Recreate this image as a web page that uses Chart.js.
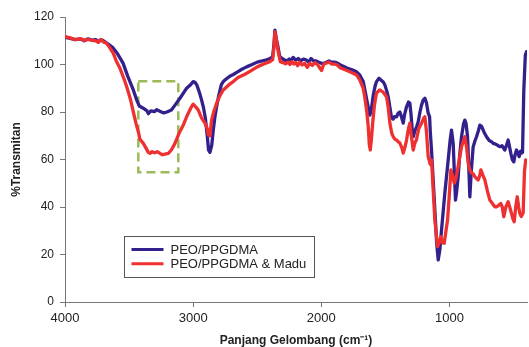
<!DOCTYPE html>
<html>
<head>
<meta charset="utf-8">
<script src="https://cdn.jsdelivr.net/npm/chart.js@4.4.1/dist/chart.umd.min.js"></script>
<style>
html, body { margin: 0; padding: 0; background: #fff; }
</style>
</head>
<body>
<canvas id="chartCanvas" width="529" height="347"></canvas>
<script>
const seriesNames = ["PEO/PPGDMA", "PEO/PPGDMA & Madu"];
const xTicks = [4000, 3000, 2000, 1000];
const yTicks = [0, 20, 40, 60, 80, 100, 120];

// PEO/PPGDMA (numero de onda, %T)
const wnPEO = [4000, 3960, 3920, 3880, 3850, 3820, 3790, 3760, 3740, 3720, 3700, 3660, 3625, 3590, 3547, 3510, 3467, 3440, 3420, 3390, 3360, 3350, 3330, 3300, 3285, 3260, 3230, 3205, 3170, 3140, 3103, 3070, 3051, 3020, 3000, 2985, 2970, 2950, 2934, 2920, 2905, 2890, 2880, 2869, 2855, 2843, 2830, 2817, 2800, 2780, 2765, 2740, 2710, 2687, 2650, 2620, 2583, 2540, 2500, 2460, 2427, 2400, 2380, 2370, 2362, 2352, 2340, 2325, 2310, 2290, 2270, 2250, 2235, 2220, 2200, 2180, 2160, 2140, 2120, 2100, 2080, 2060, 2040, 2020, 2000, 1980, 1960, 1940, 1920, 1900, 1881, 1850, 1800, 1760, 1725, 1700, 1673, 1660, 1645, 1634, 1621, 1610, 1595, 1580, 1569, 1550, 1535, 1515, 1504, 1490, 1478, 1465, 1452, 1440, 1430, 1413, 1400, 1387, 1375, 1361, 1350, 1335, 1320, 1309, 1300, 1290, 1283, 1270, 1255, 1244, 1230, 1218, 1205, 1192, 1180, 1166, 1155, 1150, 1140, 1114, 1100, 1088, 1075, 1062, 1036, 1010, 995, 984, 971, 960, 953, 945, 932, 920, 906, 890, 880, 870, 859, 850, 841, 830, 815, 800, 789, 775, 763, 750, 730, 711, 690, 672, 659, 640, 620, 607, 590, 568, 555, 542, 530, 521, 510, 498, 488, 477, 465, 456, 445, 438, 430, 420, 408, 399];
const tPEO = [111.5, 111, 110.5, 110.8, 110, 110.8, 110.3, 110.5, 109.5, 110.5, 110, 108.5, 107, 104.5, 100.6, 95, 89.3, 85, 82.5, 81.6, 80.5, 79.3, 80.5, 80.2, 81, 80.3, 79.6, 80, 80.8, 83, 85.8, 88.5, 90, 91.5, 92.8, 92.5, 91.2, 88, 85, 82, 77.5, 70, 64, 63, 66, 72.4, 78, 82.2, 87, 91.5, 92.8, 94, 95.2, 95.8, 97, 98, 99, 100, 101, 101.5, 102, 102.5, 103.3, 108, 114.5, 111, 108, 103.5, 102.7, 102, 101.5, 102.3, 101.6, 103, 101.8, 102.5, 101.5, 102.3, 102, 101, 102.5, 101.5, 101.5, 101, 100.5, 100.5, 101, 101.5, 101, 101, 100.8, 99.8, 98.5, 97.8, 96.9, 95.6, 92.8, 89.3, 85, 82, 78.7, 81, 87, 91, 92.8, 94.2, 93.5, 92.5, 91.4, 89, 86.4, 82, 77.6, 77, 78, 78, 79.5, 80, 78, 75.3, 79, 82.2, 84.2, 83.7, 79, 72, 69.6, 72, 74, 75.9, 80, 82.9, 85, 85.8, 84, 79.5, 78, 72, 64, 38.7, 25, 17.7, 22, 30.3, 45.9, 59.8, 68, 72.4, 66.9, 52, 42.9, 46, 52.8, 62, 69.6, 75, 76.6, 75, 69.6, 58, 44.3, 55, 65.4, 68, 69.6, 72, 74.5, 74, 71.5, 69.6, 68, 67.5, 66.8, 66.5, 65.8, 65.4, 65.8, 64, 66, 68.2, 65, 62.6, 60, 59, 62, 64, 62.5, 61.2, 63.5, 62.7, 63, 89, 104, 105.4];

// PEO/PPGDMA & Madu (numero de onda, %T)
const wnMadu = [4000, 3960, 3920, 3880, 3850, 3820, 3790, 3760, 3740, 3720, 3700, 3675, 3650, 3623, 3600, 3571, 3540, 3519, 3490, 3467, 3445, 3428, 3415, 3400, 3389, 3370, 3350, 3337, 3320, 3300, 3280, 3259, 3240, 3220, 3194, 3170, 3142, 3110, 3077, 3051, 3020, 3000, 2985, 2960, 2934, 2908, 2890, 2882, 2870, 2856, 2840, 2817, 2790, 2765, 2720, 2687, 2650, 2600, 2560, 2500, 2450, 2401, 2380, 2370, 2362, 2350, 2335, 2320, 2300, 2280, 2260, 2245, 2230, 2215, 2200, 2185, 2170, 2150, 2130, 2110, 2090, 2070, 2050, 2030, 1998, 1980, 1960, 1940, 1920, 1900, 1881, 1850, 1800, 1760, 1725, 1700, 1673, 1660, 1645, 1634, 1625, 1618, 1610, 1598, 1585, 1570, 1545, 1520, 1491, 1478, 1465, 1450, 1439, 1425, 1413, 1400, 1387, 1372, 1361, 1348, 1335, 1320, 1309, 1300, 1283, 1270, 1258, 1240, 1218, 1200, 1192, 1180, 1166, 1150, 1140, 1114, 1093, 1080, 1067, 1055, 1041, 1015, 1000, 989, 975, 963, 950, 937, 920, 906, 890, 880, 866, 854, 840, 828, 815, 802, 789, 776, 765, 755, 740, 724, 705, 685, 665, 646, 633, 620, 600, 588, 576, 560, 542, 530, 516, 505, 495, 483, 471, 460, 451, 440, 425, 415, 405];
const tMadu = [111.8, 111.2, 110.5, 110.9, 110.2, 110.6, 110.2, 110, 109.3, 110.5, 109.5, 108.9, 107, 104.7, 101.5, 98.4, 94, 90.7, 85.5, 80.1, 75, 71.7, 68.5, 67.5, 66.8, 65, 63, 62.6, 63.3, 62.8, 63.3, 62.6, 62, 62.3, 62.6, 64, 66.8, 71, 74.5, 78, 81.5, 83.3, 82.5, 80.8, 77.4, 75.3, 73, 70.3, 70, 76.6, 80, 83.7, 87, 89.3, 91.5, 92.8, 94.5, 95.8, 97, 99, 100.2, 101.2, 102, 107, 113.8, 110, 105, 101.2, 100.8, 100.3, 101, 100, 101.2, 100.2, 100.8, 99.5, 101, 99.8, 100.5, 98.8, 100.5, 99.6, 100.8, 100, 97.5, 100.3, 100.6, 101, 100.2, 100.2, 100, 98.5, 97.5, 96.5, 95.6, 93.5, 90, 86, 80, 74, 66, 64, 68, 76, 83, 87.9, 89.3, 88.5, 86.4, 82, 75.3, 71, 69.6, 68.5, 68.2, 67.5, 66.9, 65, 62.7, 65, 68.2, 73, 75.3, 71, 64, 67, 68.2, 73, 75.3, 77.5, 78, 72, 61.2, 58, 59.8, 34.5, 23.3, 25, 27.5, 25, 24.7, 34.5, 46, 55.6, 53, 50, 52, 55.6, 61, 65.4, 68, 69.6, 65, 58.5, 55.5, 54.3, 54, 52.8, 52, 51.4, 53, 55.6, 53.5, 51.4, 47, 42.9, 41.5, 40.1, 40.1, 40.5, 41.5, 40, 35.9, 40, 42.2, 40, 37.3, 35, 33.8, 40, 44.3, 40, 37.3, 36, 37.5, 55, 59.8];

// Retangulo tracejado (regiao O-H)
const boxWn = [3428, 3116];
const boxT = [54.6, 93];

const seriesColors = ["#33208c", "#ee3030"];
const fontFamily = "'Liberation Sans', Arial, sans-serif";

const toPoints = (xs, ys) => xs.map((x, i) => ({ x, y: ys[i] }));

// Legenda desenhada dentro da area do grafico
const legendBox = {
  id: "legendBox",
  afterDatasetsDraw(chart) {
    const { ctx, chartArea } = chart;
    const x = Math.round(chartArea.left + 59) + 0.5;
    const y = Math.round(chartArea.top + 219) + 0.5;
    const w = 190, h = 41;
    ctx.save();
    ctx.fillStyle = "#fff";
    ctx.fillRect(x, y, w, h);
    ctx.strokeStyle = "#555";
    ctx.lineWidth = 1;
    ctx.strokeRect(x, y, w, h);
    seriesNames.forEach((name, i) => {
      const ly = y + 13 + i * 14.3;
      ctx.strokeStyle = seriesColors[i];
      ctx.lineWidth = 3;
      ctx.beginPath();
      ctx.moveTo(x + 7, ly);
      ctx.lineTo(x + 39, ly);
      ctx.stroke();
      ctx.fillStyle = "#222";
      ctx.font = "13px " + fontFamily;
      ctx.textBaseline = "middle";
      ctx.fillText(name, x + 46, ly + 0.5);
    });
    ctx.restore();
  }
};

const lineStyle = {
  borderWidth: 3.3,
  borderJoinStyle: "round",
  borderCapStyle: "round",
  pointRadius: 0,
  tension: 0
};

const chartCanvas = document.getElementById("chartCanvas");
new Chart(chartCanvas, {
  type: "line",
  data: {
    datasets: [
      {
        ...lineStyle,
        label: seriesNames[0],
        data: toPoints(wnPEO, tPEO),
        borderColor: seriesColors[0],
        order: 1
      },
      {
        ...lineStyle,
        label: seriesNames[1],
        data: toPoints(wnMadu, tMadu),
        borderColor: seriesColors[1],
        order: 0
      },
      {
        label: "box",
        data: toPoints([boxWn[0], boxWn[1], boxWn[1], boxWn[0], boxWn[0]], [boxT[1], boxT[1], boxT[0], boxT[0], boxT[1]]),
        borderColor: "#9bbb59",
        borderWidth: 2.5,
        borderDash: [9, 5],
        pointRadius: 0,
        tension: 0,
        order: 2
      }
    ]
  },
  options: {
    responsive: false,
    animation: false,
    devicePixelRatio: 1,
    layout: { padding: { top: 17, right: 2, left: 0, bottom: 0 } },
    plugins: {
      legend: { display: false },
      tooltip: { enabled: false }
    },
    scales: {
      x: {
        type: "linear",
        reverse: true,
        min: 395,
        max: 4000,
        afterBuildTicks: s => { s.ticks = xTicks.map(v => ({ value: v })); },
        afterFit: s => { s.height = 45; },
        border: { display: true, color: "#777", width: 1 },
        grid: { drawOnChartArea: false, drawTicks: true, tickLength: 5, color: "#777" },
        ticks: {
          color: "#222",
          padding: 4,
          maxRotation: 0,
          font: { family: fontFamily, size: 13 },
          callback: v => String(v)
        },
        title: {
          display: true,
          text: "Panjang Gelombang (cm⁻¹)",
          color: "#222",
          padding: 0,
          font: { family: fontFamily, size: 12, weight: "bold", lineHeight: 1 }
        }
      },
      y: {
        min: 0,
        max: 120,
        afterBuildTicks: s => { s.ticks = yTicks.map(v => ({ value: v })); },
        afterFit: s => { s.width = 65; },
        border: { display: true, color: "#777", width: 1 },
        grid: { drawOnChartArea: false, drawTicks: true, tickLength: 5, color: "#777" },
        ticks: { color: "#222", padding: 6, font: { family: fontFamily, size: 12 } },
        title: {
          display: true,
          text: "%Transmitan",
          color: "#222",
          padding: { top: 11, bottom: 0 },
          font: { family: fontFamily, size: 12, weight: "bold", lineHeight: 1 }
        }
      }
    }
  },
  plugins: [legendBox]
});
</script>
</body>
</html>
